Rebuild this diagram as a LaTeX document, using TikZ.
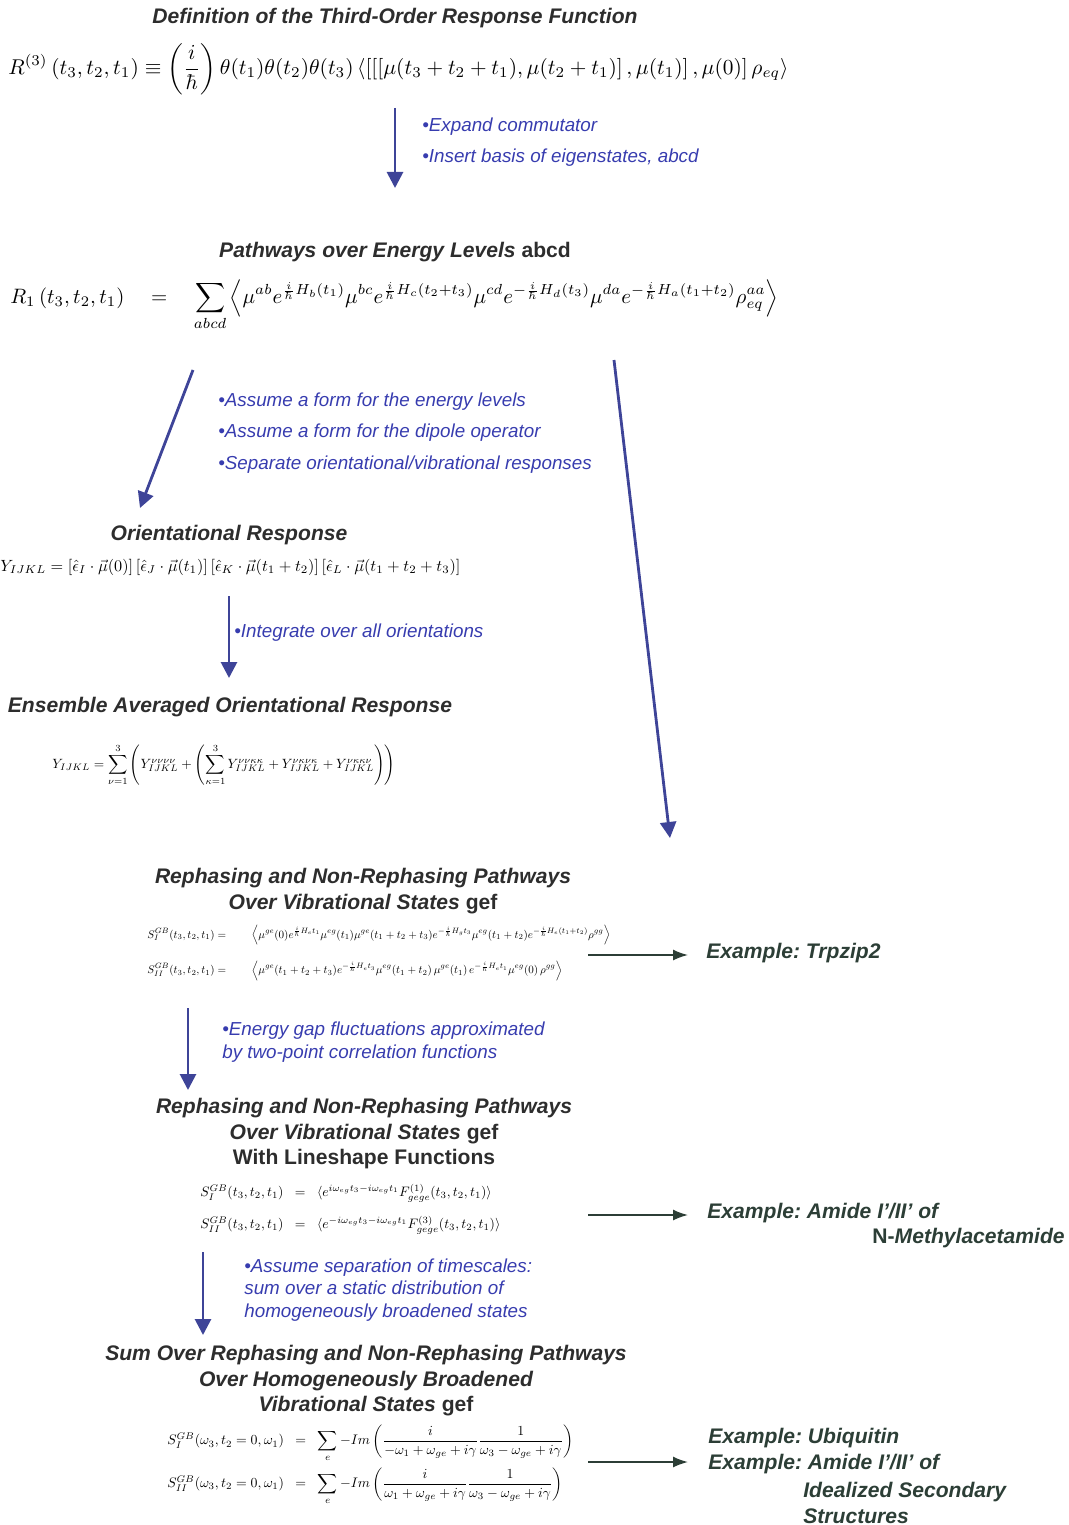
\documentclass[tikz,border=0pt]{standalone}
\usepackage{amsmath,amssymb}
\usepackage{graphicx}
\usepackage{fontspec}
\newfontfamily\headfont{Liberation Sans}
\usetikzlibrary{arrows.meta}
\definecolor{headgray}{RGB}{45,45,45}
\definecolor{stepblue}{RGB}{55,60,175}
\definecolor{arrowblue}{RGB}{62,68,152}
\definecolor{exgreen}{RGB}{44,62,54}
\tikzset{
  heading/.style = {font=\headfont\fontsize{12}{14.5}\selectfont\bfseries\itshape,
                    text=headgray, align=center, inner sep=0pt},
  note/.style    = {font=\headfont\fontsize{10.7}{18}\selectfont\itshape,
                    text=stepblue, align=left, anchor=west, inner sep=0pt},
  tightnote/.style = {note, font=\headfont\fontsize{10.7}{13}\selectfont\itshape},
  example/.style = {font=\headfont\fontsize{12}{14.5}\selectfont\bfseries\itshape,
                    text=exgreen, align=left, inner sep=0pt},
  eqn/.style     = {anchor=west, inner sep=0pt},
  flow/.style    = {-{Triangle[length=3.2mm,width=3.2mm]}, line width=1.6pt, arrowblue},
  lead/.style    = {-{Latex[length=3mm,width=2.2mm]}, line width=0.9pt, exgreen},
}
\frenchspacing

\begin{document}
\begin{tikzpicture}[x=0.2mm,y=-0.2mm]
  \useasboundingbox (0,0) rectangle (1068,1525);

  \node[heading] (deftitle) at (395,18) {Definition of the Third-Order Response Function};
  \node[eqn] (defeq) at (8,69) {\resizebox{15.6cm}{!}{$\displaystyle
    R^{(3)}\left(t_3,t_2,t_1\right)\equiv\left(\frac{i}{\hbar}\right)\theta(t_1)\theta(t_2)\theta(t_3)\,
    \langle[[[\mu(t_3+t_2+t_1),\mu(t_2+t_1)]\,,\mu(t_1)]\,,\mu(0)]\,\rho_{eq}\rangle$}};

  \coordinate (a1top) at (395,108);
  \coordinate (a1tip) at (395,188);
  \draw[flow] (a1top) -- (a1tip);
  \node[note] (expandnote) at (422,142) {•Expand commutator\\•Insert basis of eigenstates, abcd};

  \node[heading] (pathtitle) at (395,252) {Pathways over Energy Levels \textup{abcd}};
  \node[eqn] (patheq) at (10,305) {\resizebox{15.36cm}{!}{$\displaystyle
    R_1\left(t_3,t_2,t_1\right)\quad=\quad\sum_{abcd}\left\langle\mu^{ab}e^{\frac{i}{\hbar}H_b(t_1)}
    \mu^{bc}e^{\frac{i}{\hbar}H_c(t_2+t_3)}\mu^{cd}e^{-\frac{i}{\hbar}H_d(t_3)}
    \mu^{da}e^{-\frac{i}{\hbar}H_a(t_1+t_2)}\rho_{eq}^{aa}\right\rangle$}};

  \coordinate (a2top) at (193,370);
  \coordinate (a2tip) at (140,508);
  \draw[flow] (a2top) -- (a2tip);
  \coordinate (a3top) at (614,360);
  \coordinate (a3tip) at (670,838);
  \draw[flow] (a3top) -- (a3tip);
  \node[note] (assumenote) at (218,433) {•Assume a form for the energy levels\\
    •Assume a form for the dipole operator\\•Separate orientational/vibrational responses};

  \node[heading] (orititle) at (229,535) {Orientational Response};
  \node[eqn] (orieq) at (0,567) {\resizebox{9.2cm}{!}{$\displaystyle
    Y_{IJKL}=[\hat{\epsilon}_I\cdot\vec{\mu}(0)]\,[\hat{\epsilon}_J\cdot\vec{\mu}(t_1)]\,
    [\hat{\epsilon}_K\cdot\vec{\mu}(t_1+t_2)]\,[\hat{\epsilon}_L\cdot\vec{\mu}(t_1+t_2+t_3)]$}};

  \coordinate (a4top) at (229,596);
  \coordinate (a4tip) at (229,678);
  \draw[flow] (a4top) -- (a4tip);
  \node[note] (integnote) at (234,633) {•Integrate over all orientations};

  \node[heading] (enstitle) at (230,707) {Ensemble Averaged Orientational Response};
  \node[eqn] (enseq) at (52,765) {\resizebox{6.86cm}{!}{$\displaystyle
    Y_{IJKL}=\sum_{\nu=1}^{3}\left(Y^{\nu\nu\nu\nu}_{IJKL}+\left(\sum_{\kappa=1}^{3}
    Y^{\nu\nu\kappa\kappa}_{IJKL}+Y^{\nu\kappa\nu\kappa}_{IJKL}+Y^{\nu\kappa\kappa\nu}_{IJKL}\right)\right)$}};

  \node[heading] (vibtitle) at (363,891) {Rephasing and Non-Rephasing Pathways\\
    Over Vibrational States \textup{gef}};
  \node[eqn] (vibeq) at (147,953) {\resizebox{9.26cm}{!}{$\begin{aligned}
    S_I^{GB}(t_3,t_2,t_1) &=\qquad\left\langle\mu^{ge}(0)e^{\frac{i}{\hbar}H_et_1}\mu^{eg}(t_1)
      \mu^{ge}(t_1+t_2+t_3)e^{-\frac{i}{\hbar}H_gt_3}\mu^{eg}(t_1+t_2)e^{-\frac{i}{\hbar}H_e(t_1+t_2)}\rho^{gg}\right\rangle\\[10pt]
    S_{II}^{GB}(t_3,t_2,t_1) &=\qquad\left\langle\mu^{ge}(t_1+t_2+t_3)e^{-\frac{i}{\hbar}H_et_3}
      \mu^{eg}(t_1+t_2)\,\mu^{ge}(t_1)\,e^{-\frac{i}{\hbar}H_et_1}\mu^{eg}(0)\,\rho^{gg}\right\rangle
    \end{aligned}$}};

  \coordinate (x1tail) at (588,955);
  \coordinate (x1tip) at (688,955);
  \draw[lead] (x1tail) -- (x1tip);
  \node[example, anchor=west] (trpex) at (706,953) {Example: Trpzip2};

  \coordinate (a5top) at (188,1008);
  \coordinate (a5tip) at (188,1090);
  \draw[flow] (a5top) -- (a5tip);
  \node[tightnote] (gapnote) at (222,1042) {•Energy gap fluctuations approximated\\
    by two-point correlation functions};

  \node[heading] (linetitle) at (364,1134) {Rephasing and Non-Rephasing Pathways\\
    Over Vibrational States \textup{gef}\\\textup{With Lineshape Functions}};
  \node[eqn] (lineeq) at (200,1209) {\resizebox{6.0cm}{!}{$\begin{aligned}
    S_I^{GB}(t_3,t_2,t_1) &\;\;=\;\;\langle e^{i\omega_{eg}t_3-i\omega_{eg}t_1}F^{(1)}_{gege}(t_3,t_2,t_1)\rangle\\[6pt]
    S_{II}^{GB}(t_3,t_2,t_1) &\;\;=\;\;\langle e^{-i\omega_{eg}t_3-i\omega_{eg}t_1}F^{(3)}_{gege}(t_3,t_2,t_1)\rangle
    \end{aligned}$}};

  \coordinate (x2tail) at (588,1215);
  \coordinate (x2tip) at (688,1215);
  \draw[lead] (x2tail) -- (x2tip);
  \node[example, anchor=west] (nmaex) at (707,1213) {Example: Amide I’/II’ of};
  \node[example, anchor=east] (nmaexb) at (1065,1238) {\textup{N-}Methylacetamide};

  \coordinate (a6top) at (203,1252);
  \coordinate (a6tip) at (203,1335);
  \draw[flow] (a6top) -- (a6tip);
  \node[tightnote] (sepnote) at (244,1290) {•Assume separation of timescales:\\
    sum over a static distribution of\\homogeneously broadened states};

  \node[heading] (homtitle) at (366,1381) {Sum Over Rephasing and Non-Rephasing Pathways\\
    Over Homogeneously Broadened\\Vibrational States \textup{gef}};
  \node[eqn] (homeq) at (167,1465) {\resizebox{8.12cm}{!}{$\begin{aligned}
    S_I^{GB}(\omega_3,t_2=0,\omega_1) &\;\;=\;\;\sum_e -Im\left(\frac{i}{-\omega_1+\omega_{ge}+i\gamma}
      \frac{1}{\omega_3-\omega_{ge}+i\gamma}\right)\\
    S_{II}^{GB}(\omega_3,t_2=0,\omega_1) &\;\;=\;\;\sum_e -Im\left(\frac{i}{\omega_1+\omega_{ge}+i\gamma}
      \frac{1}{\omega_3-\omega_{ge}+i\gamma}\right)
    \end{aligned}$}};

  \coordinate (x3tail) at (588,1462);
  \coordinate (x3tip) at (688,1462);
  \draw[lead] (x3tail) -- (x3tip);
  \node[example, anchor=west] (ubqex) at (708,1451) {Example: Ubiquitin\\Example: Amide I’/II’ of};
  \node[example, anchor=west] (ubqexb) at (803,1503) {Idealized Secondary\\Structures};
\end{tikzpicture}
\end{document}
